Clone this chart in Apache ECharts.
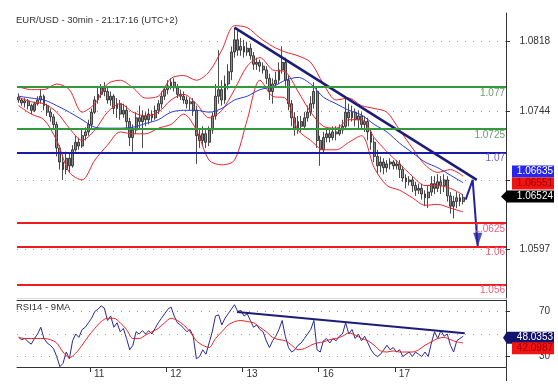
<!DOCTYPE html>
<html><head><meta charset="utf-8">
<script src="https://cdn.jsdelivr.net/npm/echarts@6/dist/echarts.min.js"></script>
<style>html,body{margin:0;padding:0;background:#fff}#c{width:558px;height:386px}</style>
</head><body><div id="c"></div>
<script>
// ---------------- data ----------------
const chartTitle = 'EUR/USD - 30min - 21:17:16 (UTC+2)';
const rsiTitle = 'RSI14 - 9MA';
const dayLabels = ['11', '12', '13', '16', '17'];
const dayStarts = [23, 47, 71, 95, 119];          // slot index where each day begins
const slotCount = 154;
// [open, close, low, high]
const candles = [
[1.0759,1.0756,1.0753,1.0763],[1.0756,1.0753,1.0750,1.0758],[1.0753,1.0755,1.0748,1.0758],[1.0755,1.0750,1.0746,1.0757],
[1.0750,1.0745,1.0741,1.0752],[1.0745,1.0752,1.0743,1.0754],[1.0752,1.0756,1.0750,1.0760],[1.0756,1.0760,1.0752,1.0767],
[1.0760,1.0750,1.0745,1.0762],[1.0750,1.0743,1.0739,1.0752],[1.0743,1.0738,1.0733,1.0747],[1.0738,1.0730,1.0726,1.0741],
[1.0730,1.0705,1.0696,1.0733],[1.0705,1.0690,1.0682,1.0708],[1.0690,1.0682,1.0671,1.0698],[1.0682,1.0694,1.0677,1.0701],
[1.0694,1.0686,1.0679,1.0699],[1.0686,1.0703,1.0684,1.0708],[1.0703,1.0711,1.0701,1.0718],[1.0711,1.0707,1.0703,1.0716],
[1.0707,1.0718,1.0705,1.0724],[1.0718,1.0722,1.0713,1.0727],[1.0722,1.0730,1.0718,1.0735],[1.0730,1.0743,1.0726,1.0747],
[1.0743,1.0756,1.0741,1.0760],[1.0756,1.0762,1.0752,1.0769],[1.0762,1.0769,1.0758,1.0773],[1.0769,1.0765,1.0760,1.0775],
[1.0765,1.0756,1.0752,1.0769],[1.0756,1.0760,1.0750,1.0765],[1.0760,1.0747,1.0741,1.0762],[1.0747,1.0752,1.0737,1.0758],
[1.0752,1.0741,1.0735,1.0756],[1.0741,1.0745,1.0737,1.0752],[1.0745,1.0733,1.0726,1.0750],[1.0733,1.0716,1.0707,1.0737],
[1.0716,1.0724,1.0701,1.0730],[1.0724,1.0737,1.0720,1.0743],[1.0737,1.0733,1.0726,1.0750],[1.0733,1.0739,1.0705,1.0745],
[1.0739,1.0735,1.0728,1.0743],[1.0735,1.0741,1.0730,1.0747],[1.0741,1.0737,1.0733,1.0745],[1.0737,1.0745,1.0735,1.0750],
[1.0745,1.0752,1.0741,1.0756],[1.0752,1.0760,1.0747,1.0765],[1.0760,1.0767,1.0756,1.0771],[1.0767,1.0771,1.0762,1.0777],
[1.0771,1.0775,1.0767,1.0779],[1.0775,1.0769,1.0765,1.0779],[1.0769,1.0762,1.0758,1.0773],[1.0762,1.0760,1.0756,1.0767],
[1.0760,1.0756,1.0752,1.0765],[1.0756,1.0752,1.0747,1.0760],[1.0752,1.0754,1.0745,1.0758],[1.0754,1.0745,1.0739,1.0758],
[1.0745,1.0718,1.0688,1.0750],[1.0718,1.0713,1.0705,1.0726],[1.0713,1.0720,1.0707,1.0728],[1.0720,1.0711,1.0705,1.0724],
[1.0711,1.0724,1.0707,1.0728],[1.0724,1.0739,1.0720,1.0743],[1.0739,1.0760,1.0735,1.0773],[1.0760,1.0767,1.0752,1.0809],
[1.0767,1.0756,1.0750,1.0777],[1.0756,1.0773,1.0752,1.0782],[1.0773,1.0786,1.0767,1.0794],[1.0786,1.0807,1.0777,1.0813],
[1.0807,1.0820,1.0801,1.0833],[1.0820,1.0809,1.0803,1.0830],[1.0809,1.0813,1.0803,1.0822],[1.0813,1.0807,1.0801,1.0820],
[1.0807,1.0811,1.0803,1.0818],[1.0811,1.0803,1.0799,1.0816],[1.0803,1.0794,1.0788,1.0807],[1.0794,1.0796,1.0788,1.0801],
[1.0796,1.0792,1.0786,1.0799],[1.0792,1.0788,1.0784,1.0796],[1.0788,1.0779,1.0773,1.0792],[1.0779,1.0765,1.0756,1.0784],
[1.0765,1.0773,1.0752,1.0779],[1.0773,1.0777,1.0769,1.0786],[1.0777,1.0788,1.0773,1.0796],[1.0788,1.0796,1.0784,1.0813],
[1.0796,1.0777,1.0771,1.0801],[1.0777,1.0752,1.0745,1.0782],[1.0752,1.0737,1.0728,1.0756],[1.0737,1.0726,1.0718,1.0743],
[1.0726,1.0733,1.0720,1.0739],[1.0733,1.0728,1.0722,1.0739],[1.0728,1.0737,1.0726,1.0743],[1.0737,1.0743,1.0733,1.0750],
[1.0743,1.0752,1.0739,1.0760],[1.0752,1.0765,1.0747,1.0775],[1.0765,1.0713,1.0705,1.0769],[1.0713,1.0703,1.0686,1.0718],
[1.0703,1.0716,1.0699,1.0722],[1.0716,1.0720,1.0711,1.0726],[1.0720,1.0716,1.0711,1.0726],[1.0716,1.0722,1.0713,1.0728],
[1.0722,1.0720,1.0713,1.0728],[1.0720,1.0724,1.0718,1.0730],[1.0724,1.0728,1.0720,1.0735],[1.0728,1.0743,1.0724,1.0758],
[1.0743,1.0737,1.0728,1.0752],[1.0737,1.0743,1.0733,1.0750],[1.0743,1.0735,1.0728,1.0747],[1.0735,1.0739,1.0726,1.0745],
[1.0739,1.0730,1.0724,1.0743],[1.0730,1.0733,1.0722,1.0739],[1.0733,1.0722,1.0713,1.0737],[1.0722,1.0711,1.0703,1.0726],
[1.0711,1.0696,1.0690,1.0716],[1.0696,1.0686,1.0677,1.0703],[1.0686,1.0690,1.0679,1.0696],[1.0690,1.0684,1.0677,1.0694],
[1.0684,1.0688,1.0679,1.0692],[1.0688,1.0690,1.0682,1.0694],[1.0690,1.0686,1.0682,1.0692],[1.0686,1.0688,1.0682,1.0692],
[1.0688,1.0682,1.0673,1.0692],[1.0682,1.0673,1.0669,1.0686],[1.0673,1.0669,1.0662,1.0677],[1.0669,1.0671,1.0665,1.0675],
[1.0671,1.0665,1.0658,1.0675],[1.0665,1.0660,1.0654,1.0669],[1.0660,1.0662,1.0656,1.0667],[1.0662,1.0656,1.0650,1.0667],
[1.0656,1.0652,1.0643,1.0660],[1.0652,1.0658,1.0641,1.0665],[1.0658,1.0667,1.0654,1.0675],[1.0667,1.0662,1.0656,1.0675],
[1.0662,1.0669,1.0658,1.0677],[1.0669,1.0665,1.0656,1.0675],[1.0665,1.0671,1.0658,1.0677],[1.0671,1.0654,1.0648,1.0675],
[1.0654,1.0643,1.0635,1.0658],[1.0643,1.0648,1.0630,1.0654],[1.0648,1.0652,1.0641,1.0658],[1.0652,1.0648,1.0643,1.0656],
[1.0648,1.06524,1.0645,1.0656]
];
const lineStep = 4; // band / MA values every 4 slots
const bbUpper = [1.0770,1.0767,1.0767,1.0773,1.0767,1.0743,1.0752,1.0773,1.0777,1.0769,1.0758,1.0760,1.0779,1.0782,1.0777,1.0786,1.0809,1.0835,1.0833,1.0822,1.0813,1.0807,1.0803,1.0796,1.0773,1.0756,1.0758,1.0750,1.0747,1.0743,1.0724,1.0705,1.0687,1.0679,1.0682,1.0675];
const bbMid = [1.0759,1.0754,1.0752,1.0743,1.0726,1.0713,1.0724,1.0743,1.0752,1.0743,1.0739,1.0743,1.0756,1.0762,1.0752,1.0737,1.0745,1.0767,1.0792,1.0801,1.0788,1.0786,1.0765,1.0743,1.0728,1.0726,1.0735,1.0735,1.0716,1.0701,1.0688,1.0675,1.0665,1.0665,1.0662,1.0655];
const bbLower = [1.0750,1.0741,1.0735,1.0713,1.0679,1.0671,1.0692,1.0708,1.0722,1.0720,1.0720,1.0726,1.0730,1.0741,1.0724,1.0692,1.0687,1.0692,1.0735,1.0777,1.0760,1.0758,1.0724,1.0713,1.0703,1.0703,1.0711,1.0718,1.0684,1.0665,1.0660,1.0652,1.0644,1.0645,1.0641,1.0637];
const maBlue = [1.0760,1.0758,1.0756,1.0750,1.0743,1.0735,1.0727,1.0726,1.0726,1.0727,1.0731,1.0735,1.0743,1.0745,1.0745,1.0743,1.0747,1.0756,1.0760,1.0767,1.0770,1.0777,1.0780,1.0773,1.0759,1.0752,1.0745,1.0740,1.0730,1.0722,1.0710,1.0700,1.0690,1.0684,1.0676,1.0668];
const rsi = [47,45,46,43,41,46,50,56,46,42,40,37,30,21,24,34,28,44,50,47,54,56,60,64,70,72,75,73,62,66,56,60,52,55,46,36,40,52,50,53,50,53,50,55,60,64,68,72,74,66,60,58,55,52,54,48,28,30,36,32,42,52,66,67,58,64,68,72,76,70,71,66,68,62,56,58,54,52,44,38,44,48,54,62,48,38,34,36,40,42,46,50,54,62,36,34,44,46,42,46,44,48,50,60,50,54,46,50,44,48,42,36,32,30,32,36,40,36,38,34,36,30,32,34,30,34,32,30,34,30,42,52,46,53,48,50,40,34,44,46,48.0353];
const rsiMaStep = 2;
const rsiMa = [47,46,46,46,46,45,42,34,29,33,40,48,55,61,64,64,60,54,46,46,49,52,55,60,64,62,58,52,44,40,38,46,52,58,61,62,61,60,56,52,47,45,44,40,36,37,40,42,43,45,46,48,51,49,46,44,40,35,34,35,34,34,34,36,40,43,46,47,45,43,42.0987];
const levelValues = [1.077, 1.0725, 1.07, 1.0625, 1.06, 1.056];
const levelLabels = ['1.077', '1.0725', '1.07', '1.0625', '1.06', '1.056'];
const priceTicks = [1.0597, 1.0671, 1.0744, 1.0818];
const priceTickLabels = ['1.0597', '', '1.0744', '1.0818'];
const rsiTicks = [30, 50, 70];
const rsiTickLabels = ['30', '', '70'];
const priceTrend = [[68, 1.0833], [144.3, 1.0671]];
const arrowPath = [[140.8, 1.0650], [143, 1.0671], [144.6, 1.0600]];
const rsiTrend = [[68.8, 69.6], [140.5, 50.6]];
const boxUpper = 1.06635, boxMid = 1.06551, lastPrice = 1.06524;
const rsiLast = 48.0353, rsiMaLast = 42.0987;

// ---------------- chart ----------------
const FONT = '"Liberation Sans", Arial, sans-serif';
const levelColors = ['#33993a', '#33993a', '#1a1aa8', '#ee1c1c', '#ee1c1c', '#ee1c1c'];
const levelTextColors = ['#6e9a6e', '#6e9a6e', '#6a5fd0', '#e8607a', '#e8607a', '#e8607a'];
const dayTicks = dayStarts.map(s => s - 0.5);
const stepped = (arr, step) => arr.map((v, i) => [i * step, v]);

const chart = echarts.init(document.getElementById('c'));
const txt = {fontSize: 10, color: '#333', fontFamily: FONT};

const option = {
  animation: false,
  textStyle: {fontFamily: FONT},
  title: [
    {text: chartTitle, left: 16, top: 15, padding: 0, textStyle: Object.assign({}, txt, {fontWeight: 'normal', fontSize: 9.5})},
    {text: rsiTitle, left: 16, top: 302, padding: 0, textStyle: Object.assign({}, txt, {fontWeight: 'normal', fontSize: 9.5})}
  ],
  grid: [
    {left: 17, right: 52, top: 13, height: 285},
    {left: 17, right: 52, top: 300, height: 67}
  ],
  xAxis: [
    {type: 'value', gridIndex: 0, min: -0.5, max: slotCount - 0.5,
     axisLine: {show: true, onZero: false, lineStyle: {color: '#d8d8d8'}}, axisTick: {show: false}, axisLabel: {show: false}, splitLine: {show: false}},
    {type: 'value', gridIndex: 1, min: -0.5, max: slotCount - 0.5,
     axisLine: {show: true, onZero: false, lineStyle: {color: '#333'}},
     axisTick: {show: true, customValues: dayTicks, length: 5, lineStyle: {color: '#333'}},
     axisLabel: Object.assign({customValues: dayTicks, margin: 2, align: 'left', padding: [0, 0, 0, 4],
       formatter: v => { const k = dayTicks.findIndex(d => Math.abs(d - v) < 0.01); return k >= 0 ? dayLabels[k] : ''; }}, txt),
     splitLine: {show: false}},
    {type: 'value', gridIndex: 1, position: 'top', min: -0.5, max: slotCount - 0.5,
     axisLine: {show: true, onZero: false, lineStyle: {color: '#333'}}, axisTick: {show: false}, axisLabel: {show: false}, splitLine: {show: false}}
  ],
  yAxis: [
    {type: 'value', gridIndex: 0, position: 'right', min: 1.05454, max: 1.08485,
     axisLine: {show: true, onZero: false, lineStyle: {color: '#333'}},
     axisTick: {show: true, customValues: priceTicks, length: 4, lineStyle: {color: '#333'}},
     axisLabel: Object.assign({customValues: priceTicks, align: 'right', margin: 44,
       formatter: v => { const k = priceTicks.findIndex(d => Math.abs(d - v) < 1e-6); return k >= 0 ? priceTickLabels[k] : ''; }}, txt),
     splitLine: {show: true, lineStyle: {type: [1, 7], color: '#999'}}},
    {type: 'value', gridIndex: 1, position: 'right', min: 20.7, max: 80.2,
     axisLine: {show: true, onZero: false, lineStyle: {color: '#333'}},
     axisTick: {show: true, customValues: rsiTicks, length: 4, lineStyle: {color: '#333'}},
     axisLabel: Object.assign({customValues: rsiTicks, align: 'right', margin: 44,
       formatter: v => { const k = rsiTicks.findIndex(d => Math.abs(d - v) < 1e-6); return k >= 0 ? rsiTickLabels[k] : ''; }}, txt),
     splitLine: {show: true, lineStyle: {type: [1, 7], color: '#999'}}}
  ],
  series: [
    {type: 'line', xAxisIndex: 0, yAxisIndex: 0, data: [], silent: true,
     markLine: {silent: true, symbol: 'none', animation: false, precision: 5,
       data: levelValues.map((v, i) => ({yAxis: v,
         lineStyle: {color: levelColors[i], width: 2, type: 'solid'},
         label: {show: true, formatter: levelLabels[i], position: 'insideEndBottom', distance: [1, 1],
                 color: levelTextColors[i], fontSize: 10, fontFamily: FONT}}))}},
    {type: 'line', xAxisIndex: 0, yAxisIndex: 0, data: stepped(bbUpper, lineStep), showSymbol: false, smooth: 0.3,
     lineStyle: {color: '#e8242a', width: 1}, silent: true},
    {type: 'line', xAxisIndex: 0, yAxisIndex: 0, data: stepped(bbMid, lineStep), showSymbol: false, smooth: 0.3,
     lineStyle: {color: '#e8242a', width: 1}, silent: true},
    {type: 'line', xAxisIndex: 0, yAxisIndex: 0, data: stepped(bbLower, lineStep), showSymbol: false, smooth: 0.3,
     lineStyle: {color: '#e8242a', width: 1}, silent: true},
    {type: 'line', xAxisIndex: 0, yAxisIndex: 0, data: stepped(maBlue, lineStep), showSymbol: false, smooth: 0.3,
     lineStyle: {color: '#2a3ad8', width: 1}, silent: true},
    {type: 'candlestick', xAxisIndex: 0, yAxisIndex: 0, barWidth: 2.4,
     data: candles.map((c, i) => [i].concat(c)),
     itemStyle: {color: '#8c8c8c', color0: '#8c8c8c', borderColor: '#1e1e1e', borderColor0: '#1e1e1e', borderWidth: 0.8}},
    {type: 'line', xAxisIndex: 0, yAxisIndex: 0, data: priceTrend, showSymbol: false,
     lineStyle: {color: '#1c1c78', width: 2.5}, silent: true},
    {type: 'line', xAxisIndex: 0, yAxisIndex: 0, data: arrowPath, showSymbol: false,
     lineStyle: {color: '#2323a0', width: 2}, silent: true},
    {type: 'scatter', xAxisIndex: 0, yAxisIndex: 0, data: [arrowPath[arrowPath.length - 1]],
     symbol: 'path://M0,0L8,0L4,14Z', symbolSize: [9, 14], symbolOffset: [0, -7],
     itemStyle: {color: '#2323a0'}, silent: true},
    {type: 'line', xAxisIndex: 1, yAxisIndex: 1, data: rsi.map((v, i) => [i, v]), showSymbol: false,
     lineStyle: {color: '#2a2a96', width: 1}, silent: true},
    {type: 'line', xAxisIndex: 1, yAxisIndex: 1, data: stepped(rsiMa, rsiMaStep), showSymbol: false, smooth: 0.3,
     lineStyle: {color: '#ee2222', width: 1}, silent: true},
    {type: 'line', xAxisIndex: 1, yAxisIndex: 1, data: rsiTrend, showSymbol: false,
     lineStyle: {color: '#1c1c78', width: 2}, silent: true}
  ]
};
chart.setOption(option);

// value tags at the right axis
const ax = chart.convertToPixel({xAxisIndex: 0}, slotCount - 0.5);
const yP = v => chart.convertToPixel({yAxisIndex: 0}, v);
const yR = v => chart.convertToPixel({yAxisIndex: 1}, v);
function tag(cy, text, bg, fg, arrow, arrowLeft) {
  const els = [];
  if (arrow) {
    els.push({type: 'polygon', shape: {points: [[ax + arrowLeft, cy], [ax + 1, cy - 6], [ax + 48, cy - 6], [ax + 48, cy + 6], [ax + 1, cy + 6]]},
              style: {fill: bg}, silent: true, z: 100});
  } else {
    els.push({type: 'rect', shape: {x: ax + 6, y: cy - 6, width: 42, height: 12}, style: {fill: bg}, silent: true, z: 100});
  }
  els.push({type: 'text', x: ax + 47, y: cy, style: {text: text, fill: fg, font: '10px ' + FONT, align: 'right', verticalAlign: 'middle'}, silent: true, z: 101});
  return els;
}
const cP = yP(lastPrice) - 1;
const cR = yR(rsiLast) + 1.5;
const rsiBottom = yR(20.7);
chart.setOption({graphic: [].concat(
  tag(cP - 25, boxUpper.toFixed(5), '#2626ee', '#ffffff', false),
  tag(cP - 13, boxMid.toFixed(5), '#f01414', '#a00000', false),
  tag(cP, lastPrice.toFixed(5), '#000000', '#ffffff', true, -5),
  tag(cR, rsiLast.toFixed(4), '#14146e', '#ffffff', true, -3),
  tag(cR + 10.5, rsiMaLast.toFixed(4), '#f01414', '#a00000', false),
  [{type: 'line', shape: {x1: ax + 0.5, y1: rsiBottom, x2: ax + 0.5, y2: rsiBottom + 14}, style: {stroke: '#333', lineWidth: 1}, silent: true}]
)});
</script>
</body></html>
